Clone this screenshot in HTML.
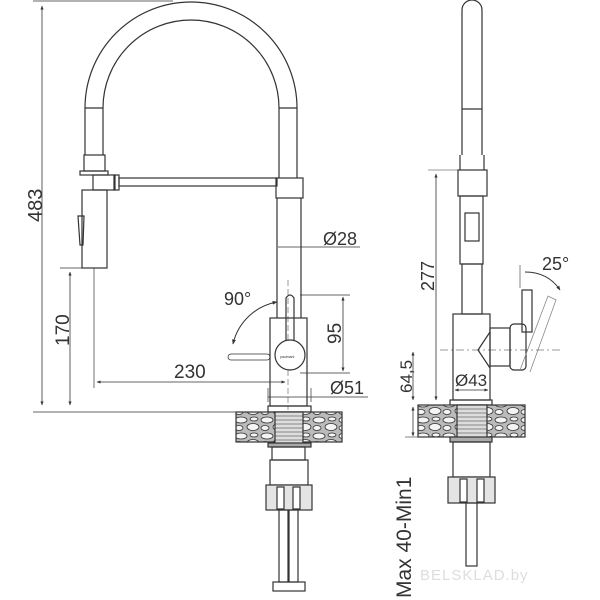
<!DOCTYPE html>
<html><head><meta charset="utf-8"><style>
html,body{margin:0;padding:0;background:#fff;width:600px;height:600px;overflow:hidden}
svg{display:block}
text{font-family:"Liberation Sans",sans-serif;fill:#333}
</style></head><body>
<svg width="600" height="600" viewBox="0 0 600 600" xmlns="http://www.w3.org/2000/svg">
<defs>
<marker id="a" viewBox="0 0 10 10" refX="9" refY="5" markerWidth="5" markerHeight="5" orient="auto-start-reverse"><path d="M0,1 L10,5 L0,9z" fill="#333"/></marker>
<pattern id="peb" width="26" height="16" patternUnits="userSpaceOnUse">
<rect width="26" height="16" fill="#bbb"/>
<ellipse cx="7" cy="4" rx="6" ry="3" fill="#f4f4f4" stroke="#333" stroke-width="0.8"/>
<ellipse cx="19" cy="11" rx="6" ry="3.5" fill="#f4f4f4" stroke="#333" stroke-width="0.8"/>
<ellipse cx="5" cy="12" rx="4" ry="2.5" fill="#f4f4f4" stroke="#333" stroke-width="0.8"/>
<ellipse cx="20" cy="3" rx="4" ry="2" fill="#f4f4f4" stroke="#333" stroke-width="0.8"/>
</pattern>
</defs>
<g fill="none" stroke="#333" stroke-width="1.2">
<line x1="33" y1="1" x2="173" y2="1" stroke-width="0.8"/>
<line x1="42" y1="6" x2="42" y2="405" stroke-width="0.8" marker-start="url(#a)" marker-end="url(#a)"/>
<path d="M85,155 L85,108 A106,106 0 0 1 297,108 L297,178"/>
<path d="M103,155 L103,108 A88,88 0 0 1 279,108 L279,178"/>
<line x1="85" y1="108" x2="103" y2="108"/>
<line x1="279" y1="108" x2="297" y2="108"/>
<rect x="84" y="155" width="21" height="16"/>
<rect x="80" y="171" width="28" height="4"/>
<rect x="93" y="175" width="22" height="15"/>
<rect x="114" y="175" width="5" height="15"/>
<rect x="119" y="178" width="158" height="8"/>
<rect x="276" y="178" width="27" height="20"/>
<rect x="82" y="190" width="25" height="78"/>
<path d="M78,216 L84,216 L83,245 L80,245z"/>
<line x1="277" y1="198" x2="277" y2="318"/>
<line x1="301" y1="198" x2="301" y2="318"/>
<line x1="60" y1="268" x2="95" y2="268" stroke-width="0.7"/>
<line x1="70" y1="272" x2="70" y2="405" stroke-width="0.8" marker-start="url(#a)" marker-end="url(#a)"/>
<line x1="94" y1="268" x2="94" y2="388" stroke-width="0.7"/>
<line x1="278" y1="247" x2="360" y2="247" stroke-width="0.7"/>
<rect x="270" y="318" width="37" height="88"/>
<line x1="288" y1="280" x2="288" y2="410" stroke-width="0.5" stroke-dasharray="6,3"/>
<path d="M286,345 L286,298 Q290,292 294,298 L294,345"/>
<circle cx="290" cy="355" r="15" fill="#fff"/>
<rect x="228" y="354" width="42" height="6" rx="3" stroke-width="0.8"/>
<path d="M277,302 A55,55 0 0 0 233,344" marker-start="url(#a)" marker-end="url(#a)" stroke-width="1"/>
<line x1="300" y1="295" x2="350" y2="295" stroke-width="0.7"/>
<line x1="300" y1="373" x2="350" y2="373" stroke-width="0.7"/>
<line x1="343" y1="297" x2="343" y2="371" stroke-width="0.8" marker-start="url(#a)" marker-end="url(#a)"/>
<line x1="97" y1="382" x2="285" y2="382" stroke-width="0.8" marker-start="url(#a)" marker-end="url(#a)"/>
<line x1="268" y1="397" x2="368" y2="397" stroke-width="0.7"/>
<line x1="268" y1="388" x2="268" y2="402" stroke-width="0.7"/>
<line x1="311" y1="388" x2="311" y2="402" stroke-width="0.7"/>
<line x1="33" y1="412" x2="236" y2="412" stroke-width="0.7"/>
<rect x="268" y="406" width="43" height="6"/>
<rect x="236" y="412" width="106" height="30" fill="url(#peb)"/>
<rect x="275" y="412" width="28" height="33" fill="#ddd"/>
<g stroke-width="0.6"><line x1="275" y1="416" x2="303" y2="416"/><line x1="275" y1="420" x2="303" y2="420"/><line x1="275" y1="424" x2="303" y2="424"/><line x1="275" y1="428" x2="303" y2="428"/><line x1="275" y1="432" x2="303" y2="432"/><line x1="275" y1="436" x2="303" y2="436"/><line x1="275" y1="440" x2="303" y2="440"/></g>
<rect x="268" y="443" width="43" height="4" fill="#aaa"/>
<rect x="272" y="447" width="33" height="13"/>
<rect x="270" y="460" width="38" height="25"/>
<rect x="266" y="485" width="46" height="25" fill="#e4e4e4"/>
<rect x="277" y="487" width="7" height="22" fill="#fff"/><rect x="293" y="487" width="7" height="22" fill="#fff"/>
<rect x="279" y="510" width="9" height="72"/><rect x="289" y="510" width="9" height="72"/>
<rect x="273" y="582" width="32" height="9"/>
<path d="M462,155 L462,10 A10,10 0 0 1 482,10 L482,155"/>
<line x1="462" y1="109" x2="482" y2="109"/>
<rect x="458" y="170" width="29" height="26"/>
<line x1="460" y1="155" x2="460" y2="170"/><line x1="484" y1="155" x2="484" y2="170"/>
<rect x="460" y="196" width="23" height="68"/>
<rect x="465" y="213" width="14" height="28"/>
<rect x="462" y="264" width="20" height="50"/>
<rect x="453" y="314" width="37" height="86"/>
<path d="M490,332 L478,350 L490,368"/>
<rect x="490" y="328" width="20" height="38"/>
<rect x="510" y="324" width="16" height="46" rx="4"/>
<rect x="522" y="290" width="10" height="42"/>
<path d="M520,370 L548,296 L556,300 L530,372" stroke="#888" stroke-width="0.8"/>
<path d="M525,272 Q548,272 560,290" stroke-width="0.9" marker-end="url(#a)"/>
<line x1="520" y1="265" x2="520" y2="288" stroke-width="0.6"/>
<line x1="440" y1="350" x2="562" y2="350" stroke-width="0.6" stroke-dasharray="8,3,2,3"/>
<line x1="428" y1="170" x2="458" y2="170" stroke-width="0.6"/>
<line x1="436" y1="174" x2="436" y2="400" stroke-width="0.8" marker-start="url(#a)" marker-end="url(#a)"/>
<line x1="413" y1="352" x2="413" y2="400" stroke-width="0.8" marker-start="url(#a)" marker-end="url(#a)"/>
<line x1="413" y1="407" x2="413" y2="436" stroke-width="0.8" marker-start="url(#a)" marker-end="url(#a)"/>
<line x1="405" y1="437" x2="420" y2="437" stroke-width="0.6"/>
<line x1="455" y1="390" x2="488" y2="390" stroke-width="0.8" marker-start="url(#a)" marker-end="url(#a)"/>
<rect x="450" y="400" width="42" height="5"/>
<rect x="418" y="405" width="107" height="32" fill="url(#peb)"/>
<rect x="457" y="405" width="30" height="34" fill="#ddd"/>
<g stroke-width="0.6"><line x1="457" y1="409" x2="487" y2="409"/><line x1="457" y1="413" x2="487" y2="413"/><line x1="457" y1="417" x2="487" y2="417"/><line x1="457" y1="421" x2="487" y2="421"/><line x1="457" y1="425" x2="487" y2="425"/><line x1="457" y1="429" x2="487" y2="429"/><line x1="457" y1="433" x2="487" y2="433"/></g>
<rect x="450" y="437" width="42" height="5" fill="#aaa"/>
<rect x="453" y="442" width="37" height="35"/>
<rect x="448" y="477" width="47" height="26" fill="#e4e4e4"/>
<rect x="460" y="479" width="7" height="23" fill="#fff"/><rect x="477" y="479" width="7" height="23" fill="#fff"/>
<rect x="466" y="503" width="11" height="63"/>
</g>
<text x="0" y="0" font-size="20" transform="translate(42,222) rotate(-90)">483</text>
<text x="0" y="0" font-size="19" transform="translate(69,346) rotate(-90)">170</text>
<text x="323" y="245" font-size="18">Ø28</text>
<text x="224" y="305" font-size="18">90°</text>
<text x="0" y="0" font-size="19" transform="translate(341,344) rotate(-90)">95</text>
<text x="174" y="378" font-size="19">230</text>
<text x="330" y="394" font-size="18">Ø51</text>
<text x="280" y="358" font-size="3.5">paulmark</text>
<text x="0" y="0" font-size="18" transform="translate(434,291) rotate(-90)">277</text>
<text x="542" y="270" font-size="18">25°</text>
<text x="0" y="0" font-size="17" transform="translate(412,393) rotate(-90)">64,5</text>
<text x="455" y="386" font-size="17">Ø43</text>
<text x="0" y="0" font-size="21" transform="translate(411,598) rotate(-90)">Max 40-Min1</text>
<text x="420" y="580" font-size="15" style="fill:#ddd;letter-spacing:1px">BELSKLAD.by</text>
</svg>
</body></html>
